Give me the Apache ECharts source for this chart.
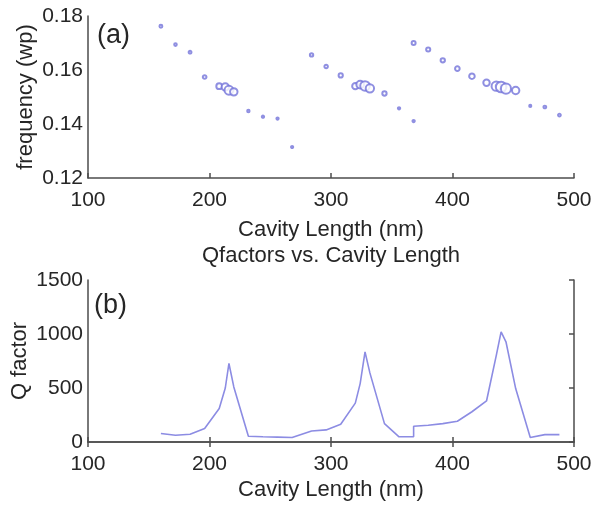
<!DOCTYPE html>
<html>
<head>
<meta charset="utf-8">
<script src="https://cdn.jsdelivr.net/npm/echarts@6/dist/echarts.min.js"></script>
<style>
  html, body { margin: 0; padding: 0; background: #fff; }
  #chart { width: 601px; height: 506px; }
</style>
</head>
<body>
<div id="chart"></div>
<script>
// Cavity length (nm) of each simulated cavity
const cavityLength = [160, 172, 184, 196, 208, 213, 216, 220, 232, 244, 256, 268,
  284, 296, 308, 320, 324, 328, 332, 344, 356, 368,
  368, 380, 392, 404, 416, 428, 436, 440, 444, 452, 464, 476, 488];
// Resonance frequency (units of wp)
const frequency = [0.1762, 0.1694, 0.1666, 0.1574, 0.1540, 0.1537, 0.1525, 0.1519, 0.1448, 0.1427, 0.1420, 0.1315,
  0.1656, 0.1613, 0.1580, 0.1540, 0.1546, 0.1541, 0.1532, 0.1513, 0.1458, 0.1411,
  0.1700, 0.1676, 0.1636, 0.1605, 0.1577, 0.1553, 0.1540, 0.1537, 0.1531, 0.1524, 0.1467, 0.1463, 0.1433];
// Quality factor of each mode
const qFactor = [78, 62, 72, 125, 310, 500, 727, 510, 53, 48, 45, 42,
  102, 112, 164, 360, 541, 835, 640, 170, 48, 48,
  146, 155, 170, 192, 280, 380, 800, 1020, 928, 495, 41, 68, 68];

const xTicks = [100, 200, 300, 400, 500];

const textColor = '#262626';
const axisColor = '#4d4d4d';
const markColor = '#7373da';
const lineColor = '#8c8ce3';
const font = 'Liberation Sans, Arial, sans-serif';
const tickFont = 21;
const nameFont = 22;

const gridA = { left: 88, top: 16, width: 486, height: 162, outerBoundsMode: 'none' };
const gridB = { left: 88, top: 280, width: 486, height: 162, outerBoundsMode: 'none' };

function xAxisDef(gridIndex, opts) {
  return Object.assign({
    type: 'value', gridIndex, min: xTicks[0], max: xTicks[xTicks.length - 1], interval: 100,
    axisLine: { show: true, lineStyle: { color: axisColor, width: 1.5 } },
    axisTick: { show: true, inside: true, length: 5, lineStyle: { color: axisColor, width: 1.5 } },
    axisLabel: { color: textColor, fontSize: tickFont, fontFamily: font, margin: 12 },
    splitLine: { show: false },
    name: 'Cavity Length (nm)', nameLocation: 'middle', nameGap: 41, nameMoveOverlap: false,
    nameTextStyle: { color: textColor, fontSize: nameFont, fontFamily: font }
  }, opts || {});
}

function yAxisDef(gridIndex, opts) {
  return Object.assign({
    type: 'value', gridIndex,
    axisLine: { show: true, lineStyle: { color: axisColor, width: 1.5 } },
    axisTick: { show: false },
    splitLine: { show: false },
    nameLocation: 'middle', nameGap: 51, nameMoveOverlap: false,
    nameTextStyle: { color: textColor, fontSize: nameFont, fontFamily: font }
  }, opts || {});
}

const scatterData = cavityLength.map((x, i) => [x, frequency[i], qFactor[i]]);
const lineData = cavityLength.map((x, i) => [x, qFactor[i]]);

const chart = echarts.init(document.getElementById('chart'), null, { renderer: 'canvas' });
chart.setOption({
  animation: false,
  backgroundColor: '#fff',
  grid: [gridA, gridB],
  xAxis: [
    xAxisDef(0),
    xAxisDef(1, { nameGap: 37 }),
    // top edge of the lower box
    xAxisDef(1, { position: 'top', axisLabel: { show: false }, name: '' })
  ],
  yAxis: [
    yAxisDef(0, {
      min: 0.12, max: 0.18, interval: 0.02, name: 'frequency (wp)', nameGap: 51,
      axisLabel: { color: textColor, fontSize: tickFont, fontFamily: font, margin: 5, formatter: v => v.toFixed(2) }
    }),
    yAxisDef(1, {
      min: 0, max: 1500, interval: 500, name: 'Q factor', nameGap: 57,
      axisLabel: { color: textColor, fontSize: tickFont, fontFamily: font, margin: 5, formatter: v => String(v) }
    }),
    // right edge of the lower box
    yAxisDef(1, {
      min: 0, max: 1500, interval: 500, position: 'right', name: '',
      axisTick: { show: true, inside: true, length: 5, lineStyle: { color: axisColor, width: 1.5 } },
      axisLabel: { show: false }
    })
  ],
  graphic: [
    { type: 'text', left: 97, top: 22, style: { text: '(a)', fontSize: 27, fontFamily: font, fill: textColor } },
    { type: 'text', left: 94, top: 292, style: { text: '(b)', fontSize: 27, fontFamily: font, fill: textColor } },
    { type: 'text', x: 331, y: 256, style: { text: 'Qfactors vs. Cavity Length', fontSize: nameFont, fontFamily: font,
      fill: textColor, align: 'center', verticalAlign: 'middle' } }
  ],
  series: [
    {
      type: 'scatter', xAxisIndex: 0, yAxisIndex: 0,
      data: scatterData,
      symbol: 'emptyCircle',
      symbolSize: v => Math.sqrt(v[2]) * 0.33,
      itemStyle: { color: markColor, borderWidth: 0.9 }
    },
    {
      type: 'line', xAxisIndex: 1, yAxisIndex: 1,
      data: lineData,
      showSymbol: false,
      lineStyle: { color: lineColor, width: 1.6 }
    }
  ]
});
</script>
</body>
</html>
